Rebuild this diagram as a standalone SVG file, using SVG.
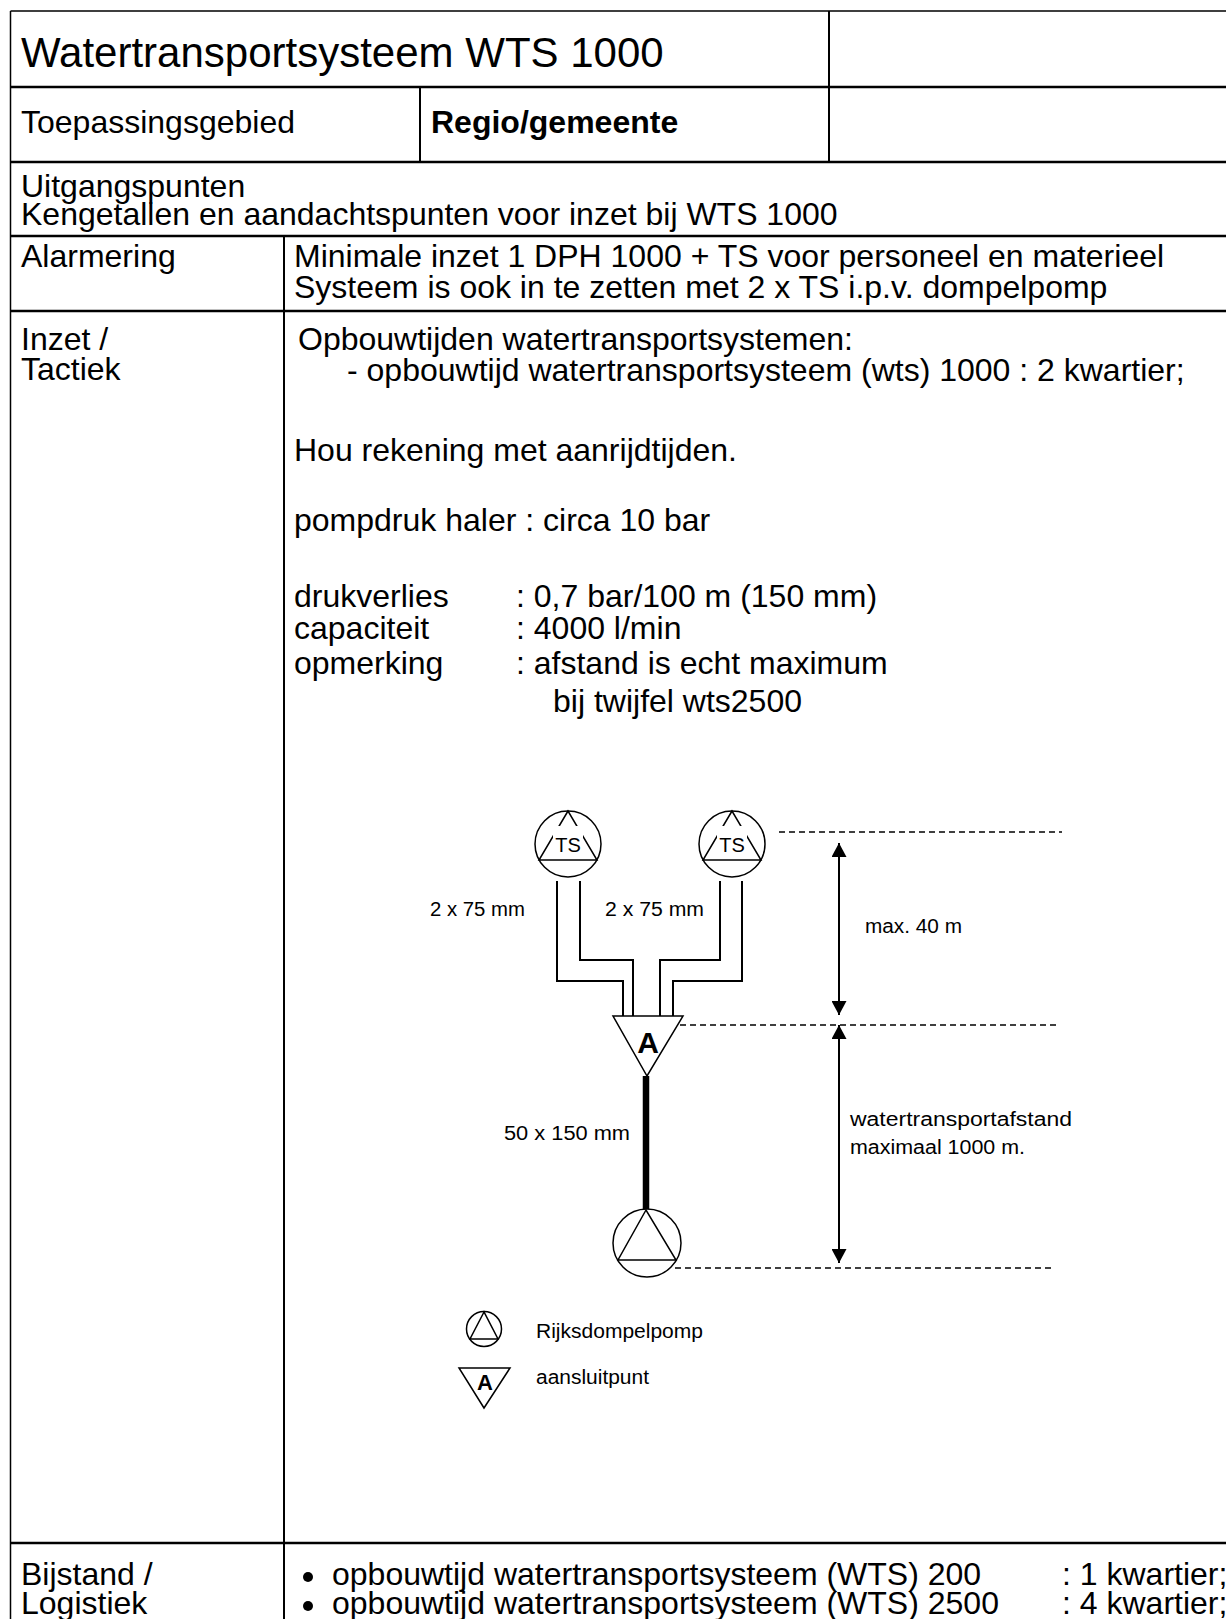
<svg xmlns="http://www.w3.org/2000/svg" width="1226" height="1619" viewBox="0 0 1226 1619">
<style>
.t{font-family:"Liberation Sans",Arial,sans-serif;fill:#000}
.body{font-size:32px}
.title{font-size:42px}
.sm{font-size:20px}
.ln{stroke:#000;fill:none}
.hose{stroke:#000;stroke-width:2;fill:none}
.dash{stroke:#000;stroke-width:1.5;stroke-dasharray:6 4;fill:none}
.sym{stroke:#000;stroke-width:1.5;fill:#fff}
</style>
<defs>
<marker id="ah" viewBox="0 0 14 15" refX="14" refY="7.5" markerWidth="14" markerHeight="15" markerUnits="userSpaceOnUse" orient="auto-start-reverse">
<path d="M0,0 L14,7.5 L0,15 Z" fill="#000"/>
</marker>
</defs>
<rect x="0" y="0" width="1226" height="1619" fill="#fff"/>
<g id="table">
<path class="ln" stroke-width="1.5" d="M10.5,11 H1226 M10.5,11 V1619"/>
<path class="ln" stroke-width="2.5" d="M10.5,87 H1226 M10.5,162 H1226 M10.5,236 H1226 M10.5,311 H1226 M10.5,1543 H1226"/>
<path class="ln" stroke-width="2" d="M829,11 V162 M420,87 V162 M284,236 V1619"/>
</g>
<g id="header">
<text class="t title" x="21" y="67">Watertransportsysteem WTS 1000</text>
<text class="t body" x="21" y="133">Toepassingsgebied</text>
<text class="t body" x="431" y="133" font-weight="bold">Regio/gemeente</text>
<text class="t body" x="21" y="197">Uitgangspunten</text>
<text class="t body" x="21" y="225">Kengetallen en aandachtspunten voor inzet bij WTS 1000</text>
</g>
<g id="alarmering">
<text class="t body" x="21" y="267">Alarmering</text>
<text class="t body" x="294" y="267">Minimale inzet 1 DPH 1000 + TS voor personeel en materieel</text>
<text class="t body" x="294" y="298">Systeem is ook in te zetten met 2 x TS i.p.v. dompelpomp</text>
</g>
<g id="inzet">
<text class="t body" x="21" y="350">Inzet /</text>
<text class="t body" x="21" y="380">Tactiek</text>
<text class="t body" x="298" y="350">Opbouwtijden watertransportsystemen:</text>
<text class="t body" x="347" y="381">- opbouwtijd watertransportsysteem (wts) 1000 : 2 kwartier;</text>
<text class="t body" x="294" y="461">Hou rekening met aanrijdtijden.</text>
<text class="t body" x="294" y="531">pompdruk haler : circa 10 bar</text>
<text class="t body" x="294" y="607">drukverlies</text>
<text class="t body" x="516" y="607">: 0,7 bar/100 m (150 mm)</text>
<text class="t body" x="294" y="639">capaciteit</text>
<text class="t body" x="516" y="639">: 4000 l/min</text>
<text class="t body" x="294" y="674">opmerking</text>
<text class="t body" x="516" y="674">: afstand is echt maximum</text>
<text class="t body" x="553" y="712">bij twijfel wts2500</text>
</g>
<g id="connectors">
<path class="hose" d="M557,881 V981 H623 V1016"/>
<path class="hose" d="M580,881 V960 H633 V1016"/>
<path class="hose" d="M720,881 V960 H660 V1016"/>
<path class="hose" d="M742,881 V981 H673 V1016"/>
<path d="M646,1076 V1210" stroke="#000" stroke-width="6.5"/>
<path class="dash" d="M779,832 H1062"/>
<path class="dash" d="M680,1025 H1060"/>
<path class="dash" d="M675,1268 H1052"/>
<path class="ln" stroke-width="2" d="M839,843 V1015" marker-start="url(#ah)" marker-end="url(#ah)"/>
<path class="ln" stroke-width="2" d="M839,1025 V1263" marker-start="url(#ah)" marker-end="url(#ah)"/>
</g>
<g id="ts1">
<circle class="sym" cx="568" cy="844" r="33"/>
<path class="ln" stroke-width="1.5" d="M568,811 L539,860 H597 Z"/>
<rect x="553" y="826" width="30" height="20" fill="#fff"/>
<text class="t" font-size="20" x="568" y="852" text-anchor="middle">TS</text>
</g>
<g id="ts2">
<circle class="sym" cx="732" cy="844" r="33"/>
<path class="ln" stroke-width="1.5" d="M732,811 L703,860 H761 Z"/>
<rect x="717" y="826" width="30" height="20" fill="#fff"/>
<text class="t" font-size="20" x="732" y="852" text-anchor="middle">TS</text>
</g>
<g id="aansluitpunt">
<path class="sym" d="M613,1016 H683 L647,1076 Z"/>
<text class="t" font-size="30" font-weight="bold" x="648" y="1053" text-anchor="middle">A</text>
</g>
<g id="pomp">
<circle class="sym" cx="647" cy="1243" r="34"/>
<path class="ln" stroke-width="1.5" d="M646,1210 L618,1260 H676 Z"/>
</g>
<g id="labels">
<text class="t sm" x="430" y="916" textLength="95" lengthAdjust="spacingAndGlyphs">2 x 75 mm</text>
<text class="t sm" x="605" y="916" textLength="99" lengthAdjust="spacingAndGlyphs">2 x 75 mm</text>
<text class="t sm" x="865" y="933" textLength="97" lengthAdjust="spacingAndGlyphs">max. 40 m</text>
<text class="t sm" x="504" y="1140" textLength="126" lengthAdjust="spacingAndGlyphs">50 x 150 mm</text>
<text class="t sm" x="850" y="1126" textLength="222" lengthAdjust="spacingAndGlyphs">watertransportafstand</text>
<text class="t sm" x="850" y="1154" textLength="175" lengthAdjust="spacingAndGlyphs">maximaal 1000 m.</text>
</g>
<g id="legend">
<circle class="sym" cx="484" cy="1329" r="17.5"/>
<path class="ln" stroke-width="1.5" d="M484,1312 L470,1339 H498 Z"/>
<text class="t sm" x="536" y="1338" textLength="167" lengthAdjust="spacingAndGlyphs">Rijksdompelpomp</text>
<path class="sym" d="M459,1368 H510 L484,1408 Z"/>
<text class="t" font-size="22" font-weight="bold" x="485" y="1390" text-anchor="middle">A</text>
<text class="t sm" x="536" y="1384" textLength="113" lengthAdjust="spacingAndGlyphs">aansluitpunt</text>
</g>
<g id="bijstand">
<text class="t body" x="21" y="1585">Bijstand /</text>
<text class="t body" x="21" y="1614">Logistiek</text>
<circle cx="308" cy="1577" r="5"/>
<circle cx="308" cy="1606" r="5"/>
<text class="t body" x="332" y="1585">opbouwtijd watertransportsysteem (WTS) 200</text>
<text class="t body" x="1062" y="1585">: 1 kwartier;</text>
<text class="t body" x="332" y="1614">opbouwtijd watertransportsysteem (WTS) 2500</text>
<text class="t body" x="1062" y="1614">: 4 kwartier;</text>
</g>
</svg>
